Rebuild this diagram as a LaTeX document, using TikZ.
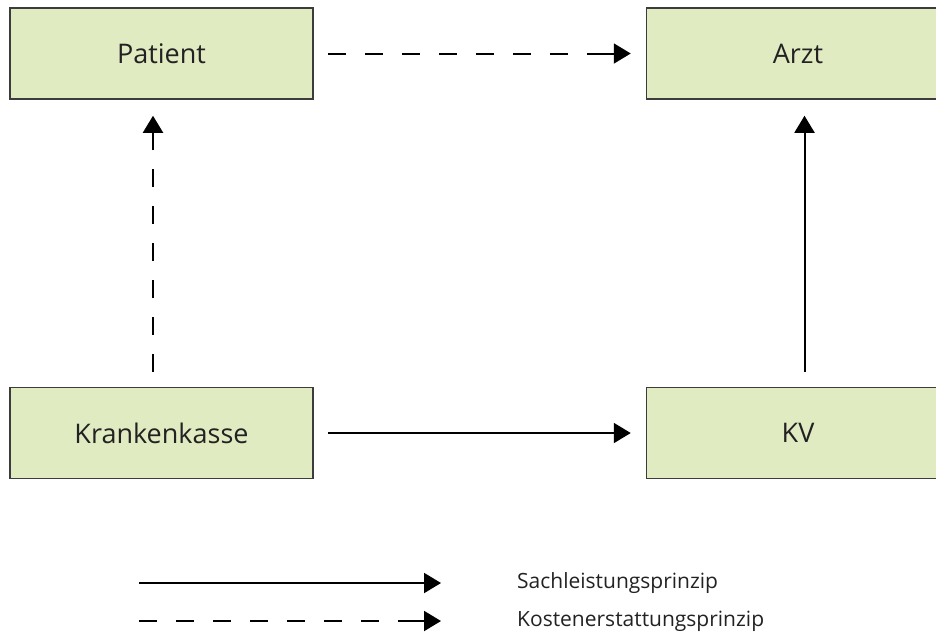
\documentclass[tikz,border=0pt]{standalone}
\usepackage{fontspec}
\setmainfont{Open Sans}
\usepackage{xcolor}
\usepackage{tikz}
\usetikzlibrary{arrows.meta}
\usetikzlibrary{positioning}
\definecolor{boxgreen}{RGB}{224,235,194}
\definecolor{boxline}{RGB}{60,60,60}
\definecolor{txt}{RGB}{34,34,34}

\begin{document}
\begin{tikzpicture}[
  x = 1pt, y = 1pt,
  node distance = 0mm,
     box/.style = {draw=boxline, line width=1.5pt, fill=boxgreen,
                   minimum width=303pt, minimum height=91pt,
                   text=txt, font=\fontsize{27}{32}\selectfont},
    flow/.style = {line width=2pt, -{Triangle[length=17pt, width=20pt]}},
  dashflow/.style = {flow, dash pattern=on 18pt off 19pt on 18pt off 19pt
                   on 18pt off 19pt on 18pt off 19pt on 18pt off 19pt
                   on 18pt off 19pt on 18pt off 19pt on 60pt off 0pt},
  legendtext/.style = {anchor=west, inner sep=0pt, text=txt,
                   font=\fontsize{21}{25}\selectfont}
                   ]
\useasboundingbox (0,0) rectangle (936,-633);
\clip (0,0) rectangle (936,-633);
% boxes
\node[box] (patient) at (161.5,-53.5) {Patient};
\node[box, right=332pt of patient] (arzt) {Arzt};
\node[box, below=287pt of patient] (kasse) {Krankenkasse};
\node[box, right=332pt of kasse] (kv) {KV};
% connectors
\draw[dashflow] ([xshift=14pt]patient.east) -- ([xshift=-15pt]arzt.west);
\draw[flow] ([xshift=14pt]kasse.east) -- ([xshift=-15pt]kv.west);
\draw[dashflow] ([xshift=-8.5pt,yshift=15pt]kasse.north)
   -- ([xshift=-8.5pt,yshift=-16pt]patient.south);
\draw[flow] ([xshift=6.5pt,yshift=15pt]kv.north)
   -- ([xshift=6.5pt,yshift=-16pt]arzt.south);
% legend
\coordinate (sa) at (139,-583);
\coordinate (sb) at (441,-583);
\coordinate (ka) at (139,-621);
\coordinate (kb) at (441,-621);
\draw[flow] (sa) -- (sb);
\draw[dashflow] (ka) -- (kb);
\node[legendtext, right=76pt of sb] {Sachleistungsprinzip};
\node[legendtext, right=76pt of kb] {Kostenerstattungsprinzip};
\end{tikzpicture}
\end{document}
